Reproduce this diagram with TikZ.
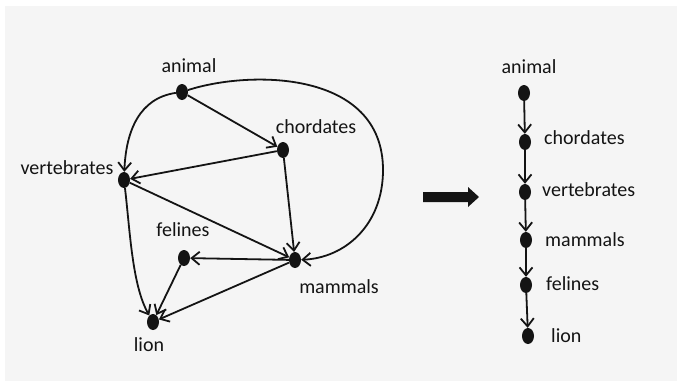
\documentclass[tikz,border=0pt]{standalone}
\usepackage{fontspec}
\setmainfont{Carlito}
\usetikzlibrary{arrows.meta,shapes.geometric}
\definecolor{panel}{HTML}{F5F5F5}
\definecolor{ink}{HTML}{141414}
\begin{document}
\begin{tikzpicture}[x=1pt,y=-1pt,
  dot/.style={ellipse,fill=ink,draw=none,minimum width=12pt,minimum height=16pt,inner sep=0pt},
  lbl/.style={font=\fontsize{20}{22}\selectfont,text=ink,inner sep=0pt},
  edge/.style={draw=ink,line width=1.8pt,-{Straight Barb[length=8pt,width=13pt,line width=1.8pt]}}]
\useasboundingbox (0,0) rectangle (677,384);
\fill[white] (0,0) rectangle (677,384);
\fill[panel] (5,6) rectangle (677,381);
% left graph
\node[dot] (a) at (182,92) {};
\node[dot] (c) at (283,150) {};
\node[dot] (v) at (124,180) {};
\node[dot] (f) at (184,258) {};
\node[dot] (m) at (295,260) {};
\node[dot] (l) at (153,322) {};
\node[lbl] (ta) at (189,66) {animal};
\node[lbl] (tc) at (316,127) {chordates};
\node[lbl] (tv) at (67,168) {vertebrates};
\node[lbl] (tf) at (183,230) {felines};
\node[lbl] (tm) at (339,287) {mammals};
\node[lbl] (tl) at (149,345) {lion};
\draw[edge] (a) .. controls (140,98) and (126,130) .. (v);
\draw[edge] (a) -- (c);
\draw[edge] (a) .. controls (250,70) and (383,70) .. (383,170) .. controls (383,225) and (345,258) .. (m);
\draw[edge] (c) -- (v);
\draw[edge] (c) -- (m);
\draw[edge] (v) -- (m);
\draw[edge] (v) .. controls (130,230) and (132,285) .. (l);
\draw[edge] (m) -- (f);
\draw[edge] (m) -- (l);
\draw[edge] (f) -- (l);
% block arrow
\fill[ink] (423,192) -- (468,192) -- (468,187) -- (479,197) -- (468,207) -- (468,202) -- (423,202) -- cycle;
% right chain
\node[dot] (ra) at (524,93) {};
\node[dot] (rc) at (525,142) {};
\node[dot] (rv) at (525,192) {};
\node[dot] (rm) at (526,240) {};
\node[dot] (rf) at (526,285) {};
\node[dot] (rl) at (528,336) {};
\node[lbl] (rta) at (529,67) {animal};
\node[lbl,anchor=west] (rtc) at (544,138) {chordates};
\node[lbl,anchor=west] (rtv) at (542,190) {vertebrates};
\node[lbl,anchor=west] (rtm) at (545,240) {mammals};
\node[lbl,anchor=west] (rtf) at (546,284) {felines};
\node[lbl,anchor=west] (rtl) at (551,336) {lion};
\draw[edge] (ra) -- (rc);
\draw[edge] (rc) -- (rv);
\draw[edge] (rv) -- (rm);
\draw[edge] (rm) -- (rf);
\draw[edge] (rf) -- (rl);
\end{tikzpicture}
\end{document}
